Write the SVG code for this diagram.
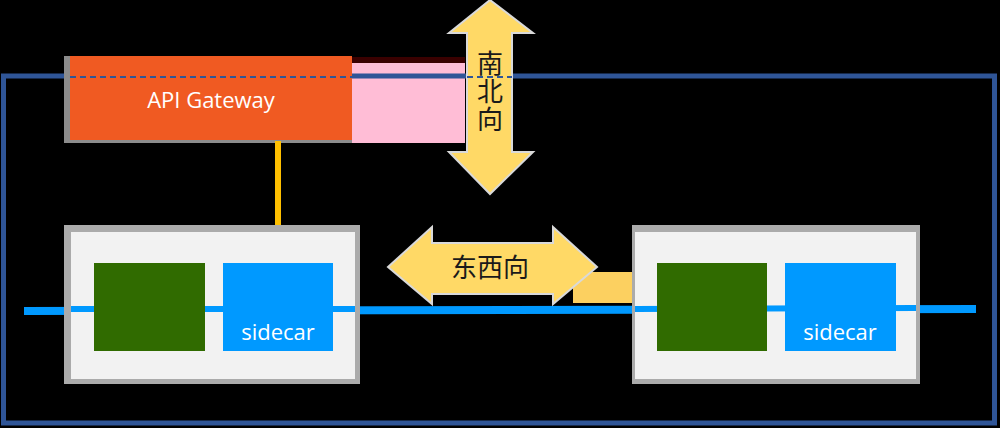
<svg xmlns="http://www.w3.org/2000/svg" width="1000" height="428" viewBox="0 0 1000 428">
<style>
.pod-shadow{fill:#ababab}
.pod{fill:#f2f2f2}
.app{fill:#306b00}
.sidecar{fill:#0099ff}
.lbl{font-family:"Open Sans","Noto Sans",sans-serif;fill:#ffffff}
.cjk{font-family:"Noto Sans CJK SC",sans-serif;fill:#1a1a1a;font-size:26px}
.arrow{fill:#ffd966;stroke:#d9d9d9;stroke-width:2}
</style>
<rect x="0" y="0" width="1000" height="428" fill="#000000"/>
<g id="frame">
<rect x="352" y="57" width="113" height="6" fill="#3a0000"/>
<rect x="352" y="63" width="113" height="80" fill="#ffbdd6"/>
<rect x="3.5" y="76" width="991" height="347" fill="none" stroke="#2f5597" stroke-width="5"/>
</g>
<g id="gateway">
<rect x="64" y="56" width="288" height="87" fill="#8c8c8c"/>
<rect x="70" y="56" width="282" height="84" fill="#f05a22"/>
<line x1="70" y1="77" x2="352" y2="77" stroke="#2f5597" stroke-width="2" stroke-dasharray="6,4"/>
<text class="lbl" x="211" y="108" font-size="22" text-anchor="middle">API Gateway</text>
</g>
<g id="north-south">
<path class="arrow" d="M490,0 L533,33 L512,33 L512,152 L533,152 L490,194 L449,152 L467,152 L467,33 L449,33 Z"/>
<line x1="467" y1="77" x2="512" y2="77" stroke="#2f5597" stroke-width="2" stroke-dasharray="6,4"/>
<text class="cjk" x="490" y="50" writing-mode="vertical-rl" letter-spacing="2">南北向</text>
</g>
<g id="connectors">
<line x1="278" y1="141" x2="278" y2="264" stroke="#ffc000" stroke-width="6"/>
<rect x="573" y="272" width="60" height="31" fill="#fcd060"/>
<line x1="24" y1="311" x2="976" y2="309" stroke="#0099ff" stroke-width="8"/>
</g>
<g id="east-west">
<path class="arrow" d="M388,267 L432,227 L432,243 L553,243 L553,227 L597,267 L553,304 L553,294 L432,294 L432,304 Z"/>
<text class="cjk" x="490" y="277" text-anchor="middle">东西向</text>
</g>
<g id="pod-left">
<rect class="pod-shadow" x="64" y="225" width="296" height="159"/>
<rect class="pod" x="71" y="232" width="284" height="147"/>
<line x1="71" y1="309" x2="355" y2="309" stroke="#0099ff" stroke-width="6"/>
<rect class="app" x="94" y="263" width="111" height="88"/>
<rect class="sidecar" x="223" y="263" width="110" height="88"/>
<text class="lbl" x="278" y="340" font-size="22" text-anchor="middle">sidecar</text>
</g>
<g id="pod-right">
<rect class="pod-shadow" x="632" y="225" width="288" height="159"/>
<rect class="pod" x="635" y="232" width="281" height="147"/>
<line x1="635" y1="309" x2="916" y2="308" stroke="#0099ff" stroke-width="6"/>
<rect class="app" x="657" y="263" width="110" height="88"/>
<rect class="sidecar" x="785" y="263" width="111" height="88"/>
<text class="lbl" x="840" y="340" font-size="22" text-anchor="middle">sidecar</text>
</g>
</svg>
